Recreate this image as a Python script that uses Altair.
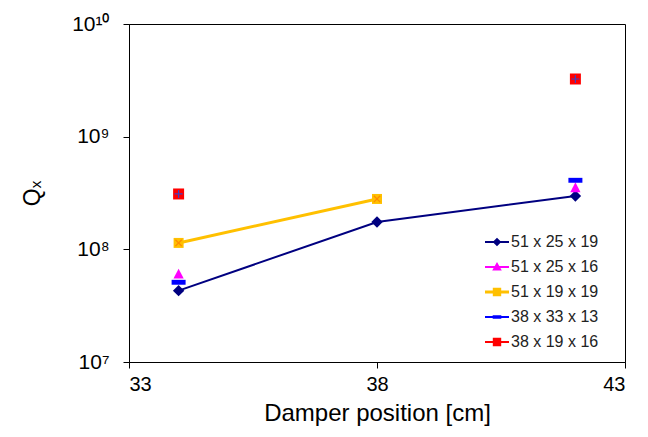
import altair as alt
import pandas as pd

# ---------------- data ----------------
series_names = ["51 x 25 x 19", "51 x 25 x 16", "51 x 19 x 19", "38 x 33 x 13", "38 x 19 x 16"]

pos_51x25x19 = [34, 38, 42]
q_51x25x19 = [4.3e7, 1.75e8, 2.97e8]

pos_51x25x16 = [34, 42]
q_51x25x16 = [6.0e7, 3.5e8]

pos_51x19x19 = [34, 38]
q_51x19x19 = [1.14e8, 2.8e8]

pos_38x33x13 = [34, 42]
q_38x33x13 = [5.1e7, 4.1e8]

pos_38x19x16 = [34, 42]
q_38x19x16 = [3.1e8, 3.25e9]

x_ticks = [33, 38, 43]
y_ticks = [1e7, 1e8, 1e9, 1e10]

# ---------------- styles ----------------
colors = ["#000080", "#ff00ff", "#ffc000", "#0000ff", "#ff0000"]
connected = [True, False, True, False, False]
line_widths = [2, 2, 3, 2, 2]
marker_paths = [
    "M0,-1L1,0L0,1L-1,0Z",
    "M0,-1L0.9,0.75H-0.9Z",
    "M-1,-1H1V1H-1Z",
    "M-1,-0.35H1V0.35H-1Z",
    "M-1,-1H1V1H-1Z",
]
marker_sizes = [130, 130, 100, 196, 121]
legend_paths = [
    "M-1,-0.08H1V0.08H-1Z M0,-0.36L0.36,0L0,0.36L-0.36,0Z",
    "M-1,-0.08H1V0.08H-1Z M0,-0.42L0.4,0.3H-0.4Z",
    "M-1,-0.12H1V0.12H-1Z M-0.35,-0.35H0.35V0.35H-0.35Z",
    "M-1,-0.08H1V0.08H-1Z M-0.36,-0.15H0.36V0.15H-0.36Z",
    "M-1,-0.08H1V0.08H-1Z M-0.35,-0.35H0.35V0.35H-0.35Z",
]
plus_path = "M-1,-0.15H1V0.15H-1Z M-0.15,-1H0.15V1H-0.15Z"

positions = [pos_51x25x19, pos_51x25x16, pos_51x19x19, pos_38x33x13, pos_38x19x16]
values = [q_51x25x19, q_51x25x16, q_51x19x19, q_38x33x13, q_38x19x16]

rows = []
for name, ps, qs in zip(series_names, positions, values):
    for p, q in zip(ps, qs):
        rows.append({"series": name, "pos": p, "q": q})
df = pd.DataFrame(rows)

FONT = "Liberation Sans"

x_enc = alt.X(
    "pos:Q",
    scale=alt.Scale(domain=[33, 43], nice=False, zero=False),
    axis=alt.Axis(values=x_ticks, title="Damper position [cm]", grid=False,
                  labelFontSize=20, titleFontSize=24, labelPadding=6, titlePadding=7,
                  tickSize=6, format="d"),
)
label_expr = ("datum.value < 5e7 ? '10\u2077' : datum.value < 5e8 ? '10\u2078' : "
              "datum.value < 5e9 ? '10\u2079' : '10\u00b9\u2070'")
y_enc = alt.Y(
    "q:Q",
    scale=alt.Scale(type="log", domain=[1e7, 1e10], nice=False),
    axis=alt.Axis(values=y_ticks, title="Q\u2093", grid=False, labelExpr=label_expr,
                  labelFontSize=21, titleFontSize=23, labelPadding=14, titlePadding=27,
                  tickSize=6),
)

base = alt.Chart(df)
layers = []
for i, name in enumerate(series_names):
    sub = base.transform_filter(alt.datum.series == name)
    if connected[i]:
        layers.append(sub.mark_line(color=colors[i], strokeWidth=line_widths[i]).encode(x=x_enc, y=y_enc))
for i, name in enumerate(series_names):
    sub = base.transform_filter(alt.datum.series == name)
    layers.append(sub.mark_point(shape=marker_paths[i], size=marker_sizes[i], filled=True,
                                 color=colors[i], opacity=1, strokeWidth=0).encode(x=x_enc, y=y_enc))
# overlays on yellow and red markers
layers.append(base.transform_filter(alt.datum.series == series_names[2]).mark_point(
    shape=plus_path, angle=45, size=81, filled=True, color="#ff8c00", opacity=1, strokeWidth=0
).encode(x=x_enc, y=y_enc))
layers.append(base.transform_filter(alt.datum.series == series_names[4]).mark_point(
    shape=plus_path, size=64, filled=True, color="#4040c0", opacity=1, strokeWidth=0
).encode(x=x_enc, y=y_enc))

legend = alt.Legend(orient="none", legendX=356, legendY=206, padding=0, title=None,
                    labelFont=FONT, labelFontSize=16, labelColor="#222222",
                    symbolSize=576, symbolStrokeWidth=0, symbolOpacity=1,
                    rowPadding=5, labelOffset=2)
layers.append(base.mark_point(filled=True, opacity=0, size=576).encode(
    x=x_enc, y=y_enc,
    shape=alt.Shape("series:N", scale=alt.Scale(domain=series_names, range=legend_paths), legend=legend),
    color=alt.Color("series:N", scale=alt.Scale(domain=series_names, range=colors), legend=legend),
))

chart = alt.layer(*layers).properties(
    width=496, height=338,
    padding={"left": 13, "top": 5, "right": 5, "bottom": 5},
).configure_view(
    stroke="black", strokeWidth=1
).configure_axis(
    labelFont=FONT, titleFont=FONT, labelColor="black", titleColor="black",
    domainColor="black", tickColor="black", titleFontWeight="normal"
)

chart.save("out.html", embed_options={"renderer": "svg", "actions": False})
